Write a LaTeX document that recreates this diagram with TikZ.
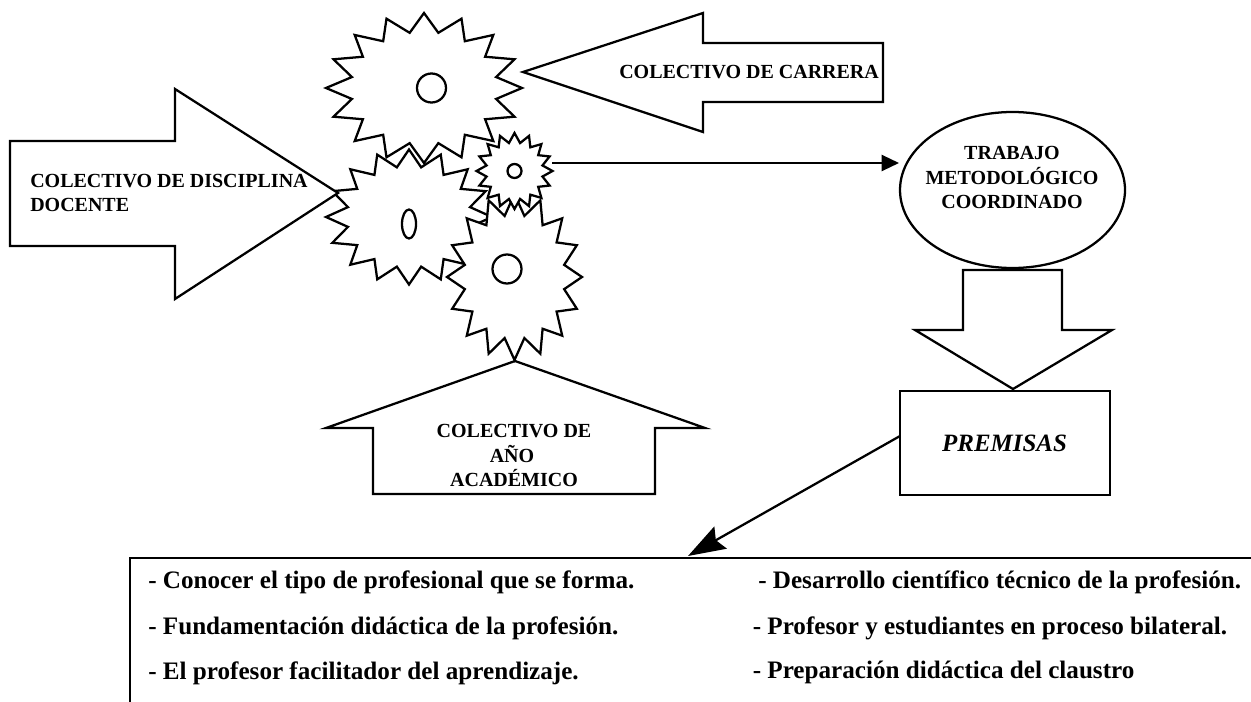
\documentclass[tikz,border=0pt]{standalone}
\usepackage{fontspec}
\usetikzlibrary{shapes.geometric,arrows.meta}
\setmainfont{Liberation Serif}
\tikzset{
  x=0.75pt,y=-0.75pt,
  shp/.style={draw=black,line width=1.7pt,fill=white,line join=miter,miter limit=10},
  lab/.style={font=\fontsize{15}{18.4}\selectfont\bfseries,inner sep=0pt,anchor=base},
  item/.style={font=\fontsize{18.85}{22}\selectfont\bfseries,inner sep=0pt,anchor=base west},
  conn/.style={draw=black,line width=1.7pt},
}
\newcommand{\gearshape}[4]{%
  \fill[white,draw=black,line width=1.7pt,line join=miter,miter limit=10]
  plot[samples at={0,1,...,31}] ({#1+(#3)*sin(\x*11.25)*(mod(\x,2)==0?1:0.75)},{#2-(#4)*cos(\x*11.25)*(mod(\x,2)==0?1:0.75)}) -- cycle;%
}
\begin{document}
\begin{tikzpicture}
\useasboundingbox (0,0) rectangle (1251,702);
% block arrows
\draw[shp] (523,72) -- (703,13) -- (703,43) -- (883,43) -- (883,102) -- (703,102) -- (703,132) -- cycle;
\draw[shp] (515,361) -- (705,428) -- (655,428) -- (655,494) -- (373,494) -- (373,428) -- (326,428) -- cycle;
\draw[shp] (963,270) -- (1062,270) -- (1062,330) -- (1112,330) -- (1013,389) -- (915,330) -- (963,330) -- cycle;
% gears
\gearshape{424}{88}{98}{75}
\gearshape{409}{217}{83}{67.5}
\gearshape{514.5}{277}{67.5}{83}
\gearshape{514.5}{171}{38}{38}
\draw[shp] (431.5,88) ellipse (14.5 and 14.5);
\draw[shp] (409,224) ellipse (7 and 14.5);
\draw[shp] (507,269) ellipse (14.5 and 14.5);
\draw[shp] (514.5,171) ellipse (7 and 7);
% left arrow lies over the gear's tooth
\draw[shp] (10,141) -- (175,141) -- (175,89) -- (338,193) -- (175,299) -- (175,246) -- (10,246) -- cycle;
% shapes
\node[shp,ellipse,inner sep=0pt,minimum width=168.75pt,minimum height=117pt] (tm) at (1012.5,190) {};
\node[shp,rectangle,inner sep=0pt,minimum width=157.5pt,minimum height=78pt] (prem) at (1005,443) {};
% texts
\node[lab,anchor=base west] (t1) at (30,188) {COLECTIVO DE DISCIPLINA};
\node[lab,anchor=base west] (t1b) at (30,212) {DOCENTE};
\node[lab,anchor=base west] (t2) at (619,79) {COLECTIVO DE CARRERA};
\node[lab] (t3a) at (514,437) {COLECTIVO DE};
\node[lab] (t3b) at (512,462) {AÑO};
\node[lab] (t3c) at (514,486) {ACADÉMICO};
\node[lab] (t4a) at (1012,160) {TRABAJO};
\node[lab] (t4b) at (1012,185) {METODOLÓGICO};
\node[lab] (t4c) at (1012,209) {COORDINADO};
\node[font=\fontsize{18.7}{22}\selectfont\bfseries\itshape,inner sep=0pt,anchor=base] (t5) at (1004.5,451) {PREMISAS};
% connectors
\coordinate (gs) at (552,163);
\coordinate (tmw) at (899,163);
\draw[conn,-{Triangle[length=13pt,width=12pt]}] (gs) -- (tmw);
\coordinate (pstart) at (900,436);
\coordinate (ptip) at (688,556);
\draw[conn,-{Stealth[length=28pt,width=19pt,inset=4pt]}] (pstart) -- (ptip);
% panel
\coordinate (pb) at (130,702);
\coordinate (pc) at (130,558);
\coordinate (pr) at (1251,558);
\draw[line width=1.8pt,line join=miter] (pb) -- (pc) -- (pr);
% items
\node[item] (a1) at (148,588) {- Conocer el tipo de profesional que se forma.};
\node[item] (a2) at (148,634) {- Fundamentación didáctica de la profesión.};
\node[item] (a3) at (148,679) {- El profesor facilitador del aprendizaje.};
\node[item] (b1) at (758,588) {- Desarrollo científico técnico de la profesión.};
\node[item] (b2) at (752.5,634) {- Profesor y estudiantes en proceso bilateral.};
\node[item] (b3) at (752.5,678) {- Preparación didáctica del claustro};
\end{tikzpicture}
\end{document}
